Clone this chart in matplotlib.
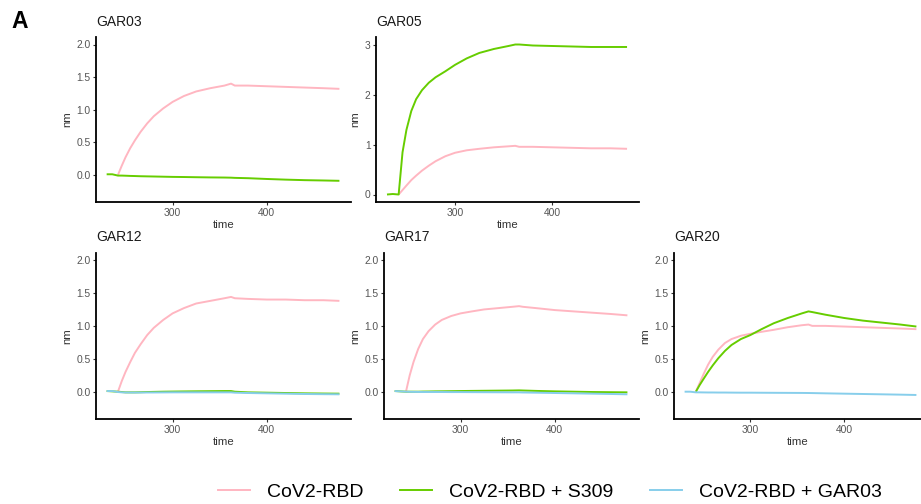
import numpy as np
import matplotlib
matplotlib.use("Agg")
import matplotlib.pyplot as plt
from matplotlib.lines import Line2D

plt.rcParams['font.family'] = ['Liberation Sans', 'DejaVu Sans']

# ---- data ----
time = [230, 236, 242, 246, 250, 255, 260, 266, 273, 280, 290, 300, 312, 325,
        340, 355, 362, 366, 380, 400, 420, 440, 460, 477]

series_names = ["CoV2-RBD", "CoV2-RBD + S309", "CoV2-RBD + GAR03"]
series_colors = ["#FFB6C1", "#66CD00", "#87CEEB"]

gar03_rbd = [None, None, 0.00, 0.14, 0.27, 0.41, 0.53, 0.66, 0.79, 0.90, 1.02, 1.12, 1.21, 1.28,
             1.33, 1.37, 1.40, 1.37, 1.37, 1.36, 1.35, 1.34, 1.33, 1.32]
gar03_s309 = [0.01, 0.01, -0.01, -0.01, -0.012, -0.015, -0.017, -0.02, -0.022, -0.024, -0.027, -0.03,
              -0.032, -0.035, -0.038, -0.04, -0.042, -0.045, -0.05, -0.062, -0.072, -0.08, -0.085, -0.09]

gar05_rbd = [None, None, 0.00, 0.09, 0.18, 0.29, 0.38, 0.48, 0.58, 0.67, 0.77, 0.84, 0.89, 0.92,
             0.95, 0.97, 0.98, 0.96, 0.96, 0.95, 0.94, 0.93, 0.93, 0.92]
gar05_s309 = [0.00, 0.01, 0.00, 0.85, 1.30, 1.68, 1.92, 2.10, 2.25, 2.36, 2.48, 2.61, 2.74, 2.85,
              2.93, 2.99, 3.02, 3.02, 3.00, 2.99, 2.98, 2.97, 2.97, 2.97]

gar12_rbd = [None, None, 0.00, 0.16, 0.30, 0.45, 0.59, 0.72, 0.86, 0.97, 1.09, 1.19, 1.27, 1.34,
             1.38, 1.42, 1.44, 1.42, 1.41, 1.40, 1.40, 1.39, 1.39, 1.38]
gar12_s309 = [0.01, 0.005, 0.0, -0.005, -0.01, -0.01, -0.01, -0.008, -0.005, -0.003, 0.0, 0.002,
              0.004, 0.006, 0.008, 0.01, 0.01, 0.0, -0.01, -0.015, -0.02, -0.025, -0.028, -0.03]
gar12_gar03 = [0.01, 0.01, -0.005, -0.01, -0.012, -0.013, -0.013, -0.013, -0.012, -0.012, -0.011,
               -0.01, -0.01, -0.01, -0.01, -0.01, -0.01, -0.015, -0.02, -0.025, -0.03, -0.035,
               -0.038, -0.04]

gar17_rbd = [None, None, 0.00, 0.25, 0.45, 0.65, 0.80, 0.92, 1.02, 1.09, 1.15, 1.19, 1.22, 1.25,
             1.27, 1.29, 1.30, 1.29, 1.27, 1.24, 1.22, 1.20, 1.18, 1.16]
gar17_s309 = [0.01, 0.005, 0.0, 0.0, 0.0, 0.0, 0.002, 0.003, 0.005, 0.006, 0.008, 0.01, 0.012,
              0.014, 0.016, 0.018, 0.02, 0.018, 0.012, 0.005, 0.0, -0.005, -0.008, -0.01]
gar17_gar03 = [0.01, 0.005, 0.0, -0.002, -0.003, -0.004, -0.005, -0.005, -0.005, -0.005, -0.006,
               -0.006, -0.007, -0.008, -0.009, -0.01, -0.01, -0.012, -0.015, -0.02, -0.025, -0.03,
               -0.035, -0.04]

gar20_rbd = [None, None, 0.00, 0.13, 0.26, 0.41, 0.53, 0.64, 0.74, 0.80, 0.85, 0.88, 0.91, 0.94,
             0.98, 1.01, 1.02, 1.00, 1.00, 0.99, 0.98, 0.97, 0.96, 0.95]
gar20_s309 = [None, None, 0.00, 0.10, 0.19, 0.30, 0.40, 0.51, 0.62, 0.71, 0.80, 0.86, 0.95, 1.04,
              1.12, 1.19, 1.22, 1.21, 1.17, 1.12, 1.08, 1.05, 1.02, 0.99]
gar20_gar03 = [0.0, 0.0, -0.01, -0.01, -0.011, -0.012, -0.012, -0.013, -0.013, -0.014, -0.015,
               -0.015, -0.016, -0.017, -0.018, -0.019, -0.02, -0.021, -0.025, -0.03, -0.035,
               -0.04, -0.045, -0.05]

panel_titles = ["GAR03", "GAR05", "GAR12", "GAR17", "GAR20"]
x_ticks = [300, 400]
y_ticks_fixed = [0.0, 0.5, 1.0, 1.5, 2.0]
y_ticks_gar05 = [0, 1, 2, 3]

# ---- layout (pixels) ----
W, H = 921, 504
fig = plt.figure(figsize=(W / 100, H / 100), dpi=100)


def px_rect(l, r, t, b):
    return [l / W, 1 - b / H, (r - l) / W, (b - t) / H]


panels = [
    ("GAR03", (96, 351, 37, 202), [gar03_rbd, gar03_s309, None]),
    ("GAR05", (376, 639, 37, 202), [gar05_rbd, gar05_s309, None]),
    ("GAR12", (96, 351, 252.5, 419), [gar12_rbd, gar12_s309, gar12_gar03]),
    ("GAR17", (384, 639, 252.5, 419), [gar17_rbd, gar17_s309, gar17_gar03]),
    ("GAR20", (674, 921, 252.5, 419), [gar20_rbd, gar20_s309, gar20_gar03]),
]

t = np.array(time, dtype=float)
for title, rect, ser in panels:
    ax = fig.add_axes(px_rect(*rect))
    for vals, col in zip(ser, series_colors):
        if vals is None:
            continue
        ax.plot(t, np.array(vals, dtype=float), color=col, lw=1.4, solid_capstyle='butt')
    for s in ['top', 'right']:
        ax.spines[s].set_visible(False)
    for s in ['left', 'bottom']:
        ax.spines[s].set_color('black')
        ax.spines[s].set_linewidth(1.3)
    ax.set_xticks(x_ticks)
    if title == "GAR20":
        ax.set_xlim(218.7, 481.9)
    else:
        ax.set_xlim(218.7, 489.3)
    if title == "GAR05":
        ax.set_yticks(y_ticks_gar05)
        ax.set_yticklabels([str(v) for v in y_ticks_gar05])
        ax.set_ylim(-0.151, 3.171)
    else:
        ax.set_yticks(y_ticks_fixed)
        ax.set_yticklabels([f"{v:.1f}" for v in y_ticks_fixed])
        ax.set_ylim(-0.415, 2.115)
    ax.tick_params(axis='both', length=2.5, width=0.8, color='#333333',
                   labelcolor='#555555', labelsize=7.4, pad=1.5)
    ax.set_xlabel("time", fontsize=8.2, labelpad=2, color='#333333')
    ax.set_ylabel("nm", fontsize=8.2, labelpad=3, color='#333333')
    ax.set_title(title, fontsize=10, loc='left', pad=8, color='#1a1a1a')
    ax.patch.set_alpha(0)

fig.text(11 / W, 1 - 28 / H, "A", fontsize=16.5, fontweight='bold', ha='left', va='baseline')

handles = [Line2D([0], [0], color=c, lw=1.4) for c in series_colors]
fig.legend(handles, series_names, loc='center', bbox_to_anchor=(550 / W, 1 - 492 / H),
           ncol=3, frameon=False, fontsize=14, handlelength=1.65, handletextpad=0.85,
           columnspacing=1.9)

fig.savefig("out.png", dpi=100)
